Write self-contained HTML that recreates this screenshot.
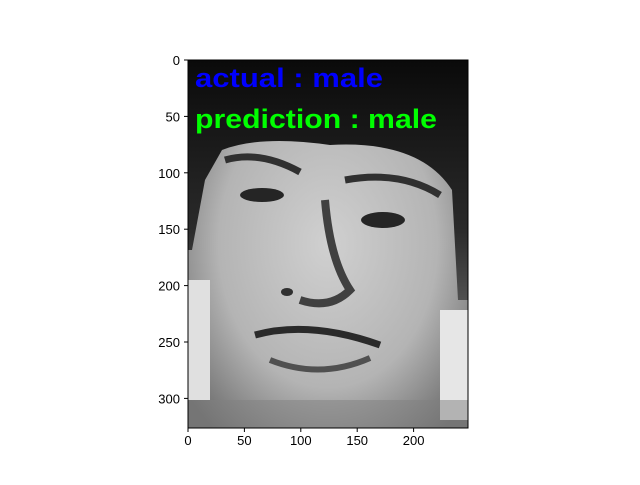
<!DOCTYPE html>
<html><head><meta charset="utf-8"><style>
body{margin:0;background:#fff;width:640px;height:480px;overflow:hidden;font-family:"Liberation Sans","DejaVu Sans",sans-serif}
</style></head><body>
<svg id="chart" width="640" height="480" xmlns="http://www.w3.org/2000/svg">
<defs>
<radialGradient id="faceG" cx="0.5" cy="0.5" r="0.65">
<stop offset="0" stop-color="#d0d0d0"/><stop offset="0.6" stop-color="#b4b4b4"/><stop offset="1" stop-color="#6a6a6a"/>
</radialGradient>
<linearGradient id="hairG" x1="0" y1="0" x2="0" y2="1">
<stop offset="0" stop-color="#0a0a0a"/><stop offset="0.7" stop-color="#2a2a2a"/><stop offset="1" stop-color="#505050"/>
</linearGradient>
<clipPath id="imgClip"><rect x="188" y="60" width="280" height="368"/></clipPath>
</defs>
<g id="image" clip-path="url(#imgClip)">
<rect x="188" y="60" width="280" height="368" fill="#9a9a9a"/>
<rect x="188" y="60" width="280" height="368" fill="url(#faceG)"/>
<rect x="188" y="280" width="22" height="120" fill="#e0e0e0"/>
<rect x="440" y="310" width="28" height="110" fill="#e6e6e6"/>
<path d="M188,60 H468 V300 L458,300 L452,190 Q420,140 330,145 Q260,135 222,150 L205,180 L192,250 L188,250 Z" fill="url(#hairG)"/>
<path d="M225,160 Q260,150 300,172" stroke="#303030" stroke-width="7" fill="none"/>
<path d="M345,180 Q400,170 440,195" stroke="#303030" stroke-width="7" fill="none"/>
<ellipse cx="262" cy="195" rx="22" ry="7" fill="#252525"/>
<ellipse cx="383" cy="220" rx="22" ry="8" fill="#252525"/>
<path d="M325,200 Q330,260 350,290 Q330,310 300,300" stroke="#404040" stroke-width="8" fill="none"/>
<ellipse cx="287" cy="292" rx="6" ry="4" fill="#303030"/>
<path d="M255,335 Q310,320 380,345" stroke="#2a2a2a" stroke-width="7" fill="none"/>
<path d="M270,360 Q320,380 370,358" stroke="#505050" stroke-width="6" fill="none"/>
<rect x="188" y="400" width="280" height="28" fill="#808080" opacity="0.5"/>
</g>
<text x="195" y="87" fill="#0000ff" font-size="27" font-weight="bold" textLength="188" lengthAdjust="spacingAndGlyphs">actual : male</text>
<text x="195" y="128" fill="#00ff00" font-size="27" font-weight="bold" textLength="242" lengthAdjust="spacingAndGlyphs">prediction : male</text>
<rect x="188" y="60" width="280" height="368" fill="none" stroke="#000" stroke-width="1"/>
<g id="xt"></g>
<g id="yt"></g>
</svg>
<script>
const xTicks=[0,50,100,150,200];
const yTicks=[0,50,100,150,200,250,300];
const x0=188,y0=60,s=1.128;
const ns="http://www.w3.org/2000/svg";
const xt=document.getElementById('xt'),yt=document.getElementById('yt');
xTicks.forEach(v=>{
 const x=x0+v*s;
 const l=document.createElementNS(ns,'line');
 
 
 l.setAttribute('x1',x);l.setAttribute('x2',x);l.setAttribute('y1',428);l.setAttribute('y2',432);l.setAttribute('stroke','#000');
 xt.appendChild(l);
 const t=document.createElementNS(ns,'text');
 
 
 t.setAttribute('x',x);t.setAttribute('y',445);t.setAttribute('text-anchor','middle');t.setAttribute('font-size','13');
 t.textContent=v;xt.appendChild(t);
});
yTicks.forEach(v=>{
 const y=y0+v*s;
 const l=document.createElementNS(ns,'line');
 
 
 l.setAttribute('x1',184);l.setAttribute('x2',188);l.setAttribute('y1',y);l.setAttribute('y2',y);l.setAttribute('stroke','#000');
 yt.appendChild(l);
 const t=document.createElementNS(ns,'text');
 
 
 t.setAttribute('x',180);t.setAttribute('y',y+5);t.setAttribute('text-anchor','end');t.setAttribute('font-size','13');
 t.textContent=v;yt.appendChild(t);
});
</script>
</body></html>
